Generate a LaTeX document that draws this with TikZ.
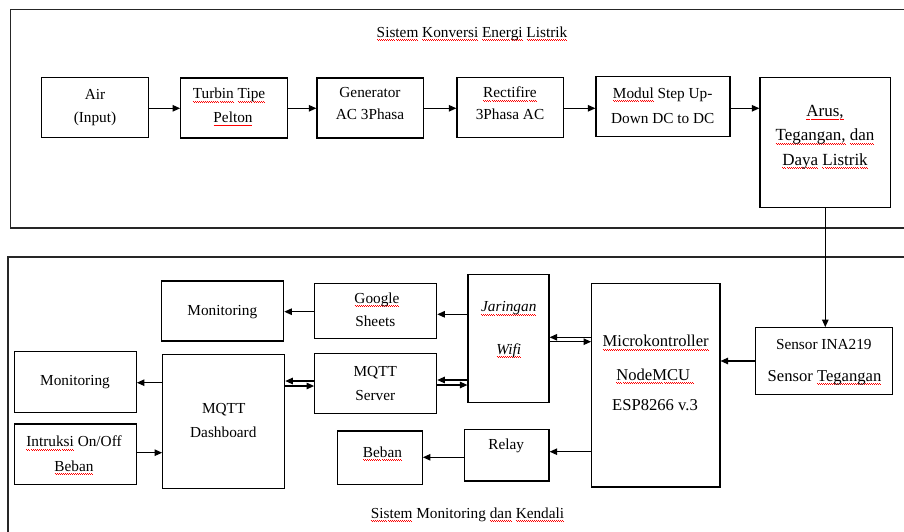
\documentclass[tikz,border=0pt]{standalone}
\usepackage{fontspec}
\setmainfont{Liberation Serif}
\usetikzlibrary{arrows.meta}
\newsavebox\wavebox
\newsavebox\sqbox
\newcommand\sq[1]{\sbox\sqbox{#1}\leavevmode\rlap{\lower3.8pt\hbox to\wd\sqbox{\xleaders\copy\wavebox\hfil}}\usebox\sqbox}
\tikzset{
  box/.style={draw, line width=1.2pt, inner sep=0pt},
  txt/.style={anchor=base, inner sep=0pt, font=\fontsize{15.3}{18}\selectfont},
  bigtxt/.style={font=\fontsize{16.6}{20}\selectfont},
  arustxt/.style={font=\fontsize{17}{20}\selectfont},
  arr/.style={line width=1.1pt, -{Triangle[length=7.5pt,width=6.5pt]}},
  frame/.style={line width=1.1pt, draw=black!85}
}
\begin{document}
\begin{tikzpicture}[x=1pt,y=-1pt]
\global\sbox\wavebox{\color{red}\vrule width 1pt height 1.7pt depth -0.9pt\vrule width 1pt height 0.8pt depth 0pt}%
\useasboundingbox (0,0) rectangle (904,532);
% frames
\draw[frame] (904,9.3) -| (10.7,228) -- (904,228);
\draw[frame] (904,257) -| (8,532);
% titles
\node[txt] (title1) at (472,37.3) {\sq{Sistem} \sq{Konversi} \sq{Energi} \sq{Listrik}};
\node[txt] (title2) at (467.5,518.3) {\sq{Sistem} Monitoring \sq{dan} \sq{Kendali}};
% top row boxes
\node[box, minimum width=107pt, minimum height=60pt] (air) at (95.2,107.7) {};
\node[box, minimum width=106.6pt, minimum height=60pt] (turb) at (234,108) {};
\node[box, minimum width=106.7pt, minimum height=60pt] (gen) at (370.3,108) {};
\node[box, minimum width=106.7pt, minimum height=60pt] (rect) at (510.3,107.7) {};
\node[box, minimum width=134pt, minimum height=60.4pt] (modul) at (663,106.5) {};
\node[box, minimum width=130.7pt, minimum height=129.6pt] (arus) at (825.3,142.5) {};
% bottom boxes
\node[box, minimum width=137.4pt, minimum height=66.6pt] (sensor) at (824,361) {};
\node[box, minimum width=122pt, minimum height=60pt] (mon1) at (222.7,311) {};
\node[box, minimum width=122pt, minimum height=55pt] (gs) at (375.7,311.2) {};
\node[box, minimum width=122pt, minimum height=60.6pt] (mon2) at (75.3,382) {};
\node[box, minimum width=122pt, minimum height=134pt] (dash) at (223.7,421.3) {};
\node[box, minimum width=122pt, minimum height=60.4pt] (server) at (375.7,383.5) {};
\node[box, minimum width=122pt, minimum height=60.3pt] (intr) at (75.3,454.2) {};
\node[box, minimum width=84.6pt, minimum height=53.3pt] (beban) at (380,457.7) {};
\node[box, minimum width=81pt, minimum height=128.4pt] (wifi) at (508.5,338.5) {};
\node[box, minimum width=128.3pt, minimum height=203.3pt] (micro) at (655.8,385.3) {};
\node[box, minimum width=84.7pt, minimum height=51.7pt] (relay) at (506.7,455.2) {};
% texts top
\node[txt] (air1) at (95,99.3) {Air};
\node[txt] (air2) at (95,122.5) {(Input)};
\node[txt] (turb1) at (229,99) {\sq{Turbin} \sq{Tipe}};
\node[txt] (turb2) at (233,122.5) {\sq{Pelton}};
\node[txt] (gen1) at (370,97.3) {Generator};
\node[txt] (gen2) at (370,120) {AC 3Phasa};
\node[txt] (rect1) at (510,97.7) {\sq{Rectifire}};
\node[txt] (rect2) at (510,120) {3Phasa AC};
\node[txt] (mod1) at (662.7,98.3) {\sq{Modul} Step Up-};
\node[txt] (mod2) at (662.7,123.3) {Down DC to DC};
\node[txt, arustxt] (arus1) at (825,116.5) {\sq{Arus,}};
\node[txt, arustxt] (arus2) at (825,140.5) {\sq{Tegangan,} \sq{dan}};
\node[txt, arustxt] (arus3) at (825,165) {\sq{Daya} \sq{Listrik}};
% texts bottom
\node[txt] (mon1t) at (222.3,315.7) {Monitoring};
\node[txt] (gs1) at (377,303.3) {\sq{Google}};
\node[txt] (gs2) at (375.3,326) {Sheets};
\node[txt] (mon2t) at (75,385) {Monitoring};
\node[txt] (dash1) at (223.7,413.3) {MQTT};
\node[txt] (dash2) at (223.3,437.7) {Dashboard};
\node[txt] (serv1) at (375.3,376) {MQTT};
\node[txt] (serv2) at (375.3,400) {Server};
\node[txt] (intr1) at (74,446.7) {\sq{Intruksi} On/Off};
\node[txt] (intr2) at (74,471) {\sq{Beban}};
\node[txt] (bebant) at (382.5,457.3) {\sq{Beban}};
\node[txt] (wifi1) at (508.8,311.7) {\itshape\sq{Jaringan}};
\node[txt] (wifi2) at (508.8,354) {\itshape\sq{Wifi}};
\node[txt, bigtxt] (micro1) at (655.7,346.7) {\sq{Microkontroller}};
\node[txt, bigtxt] (micro2) at (655.3,380) {\sq{NodeMCU\ }};
\node[txt, bigtxt] (micro3) at (655,410.7) {ESP8266 v.3};
\node[txt] (relayt) at (506.2,449.3) {Relay};
\node[txt] (sens1) at (823.8,349) {Sensor INA219};
\node[txt, bigtxt] (sens2) at (824.5,381) {Sensor \sq{Tegangan}};
% connectors top
\draw[arr] (air.east |- 0,108.3) -- (turb.west |- 0,108.3);
\draw[arr] (turb.east |- 0,108.3) -- (gen.west |- 0,108.3);
\draw[arr] (gen.east |- 0,108.3) -- (rect.west |- 0,108.3);
\draw[arr] (rect.east |- 0,108.3) -- (modul.west |- 0,108.3);
\draw[arr] (modul.east |- 0,108.3) -- (arus.west |- 0,108.3);
\draw[arr] (arus.south) -- (arus.south |- sensor.north);
% connectors bottom
\draw[arr] (sensor.west |- 0,361) -- (micro.east |- 0,361);
\draw[arr] (micro.west |- 0,337.3) -- (wifi.east |- 0,337.3);
\draw[arr] (wifi.east |- 0,341.7) -- (micro.west |- 0,341.7);
\draw[arr] (wifi.west |- 0,314.3) -- (gs.east |- 0,314.3);
\draw[arr] (gs.west |- 0,311.7) -- (mon1.east |- 0,311.7);
\draw[arr] (wifi.west |- 0,380) -- (server.east |- 0,380);
\draw[arr] (server.east |- 0,385) -- (wifi.west |- 0,385);
\draw[arr] (server.west |- 0,381) -- (dash.east |- 0,381);
\draw[arr] (dash.east |- 0,386) -- (server.west |- 0,386);
\draw[arr] (dash.west |- 0,382.7) -- (mon2.east |- 0,382.7);
\draw[arr] (intr.east |- 0,452.7) -- (dash.west |- 0,452.7);
\draw[arr] (micro.west |- 0,451.7) -- (relay.east |- 0,451.7);
\draw[arr] (relay.west |- 0,457.3) -- (beban.east |- 0,457.3);
\end{tikzpicture}
\end{document}
